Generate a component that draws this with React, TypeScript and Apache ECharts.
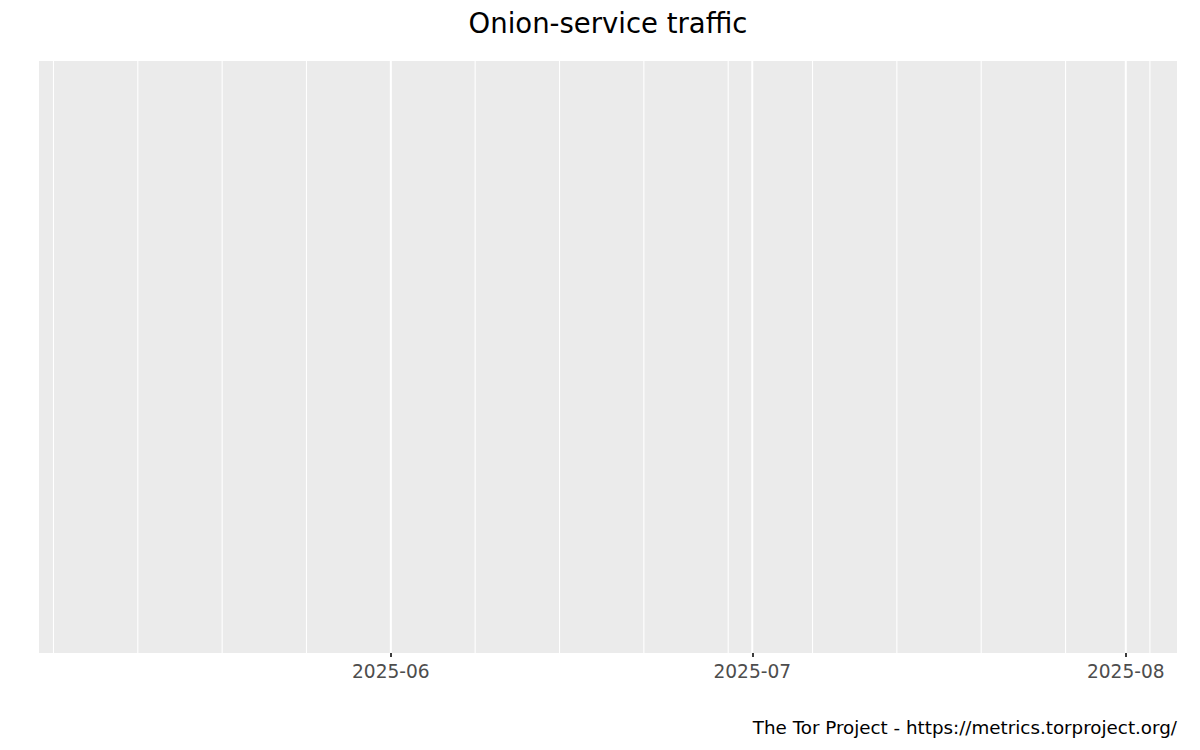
import React, { useEffect, useRef } from "react";
import * as echarts from "echarts";

const DAY = 86400000;
const TITLE = "Onion-service traffic";
const CAPTION = "The Tor Project - https://metrics.torproject.org/";

// Axis range (dates, including ggplot's expansion)
const AXIS_MIN = Date.UTC(2025, 5, 1) - 29.2 * DAY;
const AXIS_MAX = Date.UTC(2025, 7, 1) + 4.25 * DAY;

// Major breaks (month starts) with labels
const majorBreaks = [Date.UTC(2025, 5, 1), Date.UTC(2025, 6, 1), Date.UTC(2025, 7, 1)];
// Minor breaks (weekly, Sundays)
const minorBreaks = [
  Date.UTC(2025, 4, 4), Date.UTC(2025, 4, 11), Date.UTC(2025, 4, 18), Date.UTC(2025, 4, 25),
  Date.UTC(2025, 5, 8), Date.UTC(2025, 5, 15), Date.UTC(2025, 5, 22), Date.UTC(2025, 5, 29),
  Date.UTC(2025, 6, 6), Date.UTC(2025, 6, 13), Date.UTC(2025, 6, 20), Date.UTC(2025, 6, 27),
  Date.UTC(2025, 7, 3),
];

const fmt = (v: number) => {
  const d = new Date(v);
  const m = d.getUTCMonth() + 1;
  return `${d.getUTCFullYear()}-${m < 10 ? "0" + m : m}`;
};

export default function App() {
  const ref = useRef<HTMLDivElement>(null);
  useEffect(() => {
    if (!ref.current) return;
    const chart = echarts.init(ref.current, null, { renderer: "svg" });
    const gridData = [
      ...minorBreaks.map((d) => [d, 0]),
      ...majorBreaks.map((d) => [d, 1]),
    ];
    chart.setOption({
      animation: false,
      backgroundColor: "#FFFFFF",
      textStyle: { fontFamily: "DejaVu Sans" },
      title: {
        text: TITLE,
        left: 603,
        textAlign: "center",
        top: 4,
        textStyle: { fontFamily: "DejaVu Sans", fontSize: 27.5, fontWeight: "normal", color: "#000000" },
      },
      grid: { left: 39, right: 23, top: 61, bottom: 97, show: true, backgroundColor: "#EBEBEB", borderWidth: 0 },
      xAxis: {
        type: "value",
        min: AXIS_MIN,
        max: AXIS_MAX,
        axisLine: { show: false },
        splitLine: { show: false },
        axisTick: {
          show: true,
          customValues: majorBreaks,
          length: 4,
          lineStyle: { color: "#333333", width: 1.9 },
        },
        axisLabel: {
          customValues: majorBreaks,
          formatter: (v: number) => fmt(v),
          fontFamily: "DejaVu Sans",
          fontSize: 18.6,
          color: "#4D4D4D",
          margin: 9,
        },
      },
      yAxis: {
        type: "value",
        min: 0,
        max: 1,
        show: false,
        splitLine: { show: false },
      },
      series: [
        {
          type: "custom",
          silent: true,
          data: gridData,
          encode: { x: 0, y: 1 },
          renderItem: (params: any, api: any) => {
            const x = api.coord([api.value(0), 0])[0];
            const cs = params.coordSys;
            const major = api.value(1) === 1;
            return {
              type: "line",
              shape: { x1: x, y1: cs.y, x2: x, y2: cs.y + cs.height },
              style: { stroke: "#FFFFFF", lineWidth: major ? 2 : 1.1 },
            };
          },
        },
      ],
      graphic: [
        {
          type: "text",
          right: 23,
          top: 718,
          style: {
            text: CAPTION,
            fontFamily: "DejaVu Sans",
            fontSize: 18.3,
            fill: "#000000",
          },
        },
      ],
    });
    return () => chart.dispose();
  }, []);
  return (
    <div
      ref={ref}
      style={{ position: "fixed", left: 0, top: 0, width: 1200, height: 750 }}
    />
  );
}
